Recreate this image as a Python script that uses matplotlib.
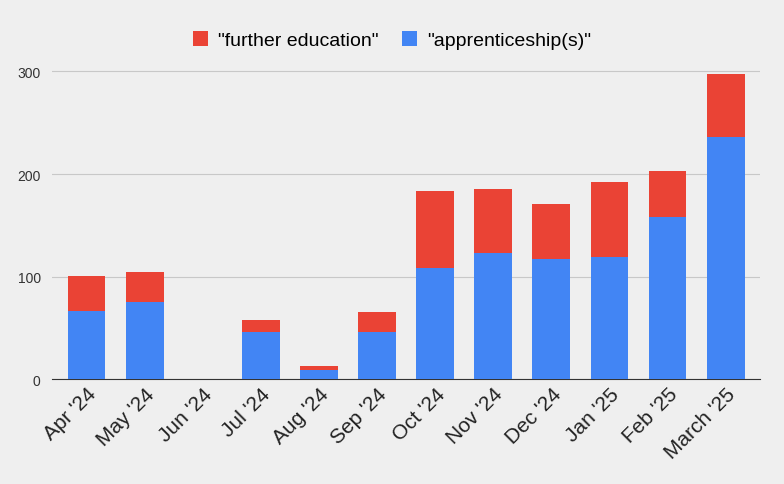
import matplotlib
matplotlib.use("Agg")
import matplotlib.pyplot as plt
import numpy as np

plt.rcParams['font.family'] = ['Liberation Sans', 'DejaVu Sans']

months = ["Apr '24", "May '24", "Jun '24", "Jul '24", "Aug '24", "Sep '24",
          "Oct '24", "Nov '24", "Dec '24", "Jan '25", "Feb '25", "March '25"]
apprenticeship = [67, 75, 0, 46, 9, 46, 108, 123, 117, 119, 158, 236]
further_edu = [34, 30, 0, 12, 4, 20, 75, 62, 54, 73, 45, 62]

bg = '#efefef'
fig = plt.figure(figsize=(7.84, 4.85), dpi=100, facecolor=bg)
ax = fig.add_axes([0.066, 0.216, 0.904, 0.66], facecolor=bg)
x = np.arange(len(months))
ax.bar(x, apprenticeship, width=0.65, color='#4285f4', label='"apprenticeship(s)"', zorder=3)
ax.bar(x, further_edu, width=0.65, bottom=apprenticeship, color='#ea4335',
       label='"further education"', zorder=3)
ax.set_xlim(-0.6, len(months) - 0.4)
ax.set_ylim(0, 300 * 309 / 309 + 12)
ax.set_yticks([0, 100, 200, 300])
ax.grid(axis='y', color='#c8c8c8', linewidth=0.8, zorder=0)
for s in ['top', 'right', 'left']:
    ax.spines[s].set_visible(False)
ax.spines['bottom'].set_color('#333333')
ax.tick_params(axis='y', length=0, labelsize=10, colors='#333333', pad=8)
ax.tick_params(axis='x', length=0, labelsize=15, colors='#222222')
ax.set_xticks(x)
ax.set_xticklabels(months, rotation=45, ha='right', rotation_mode='anchor')
h, l = ax.get_legend_handles_labels()
fig.legend(h[::-1], l[::-1], loc='upper center', bbox_to_anchor=(0.5, 0.97), ncol=2,
           frameon=False, fontsize=14, handlelength=0.8, handleheight=0.8,
           columnspacing=1.2, handletextpad=0.5)
fig.savefig('out.png', dpi=100, facecolor=bg)
